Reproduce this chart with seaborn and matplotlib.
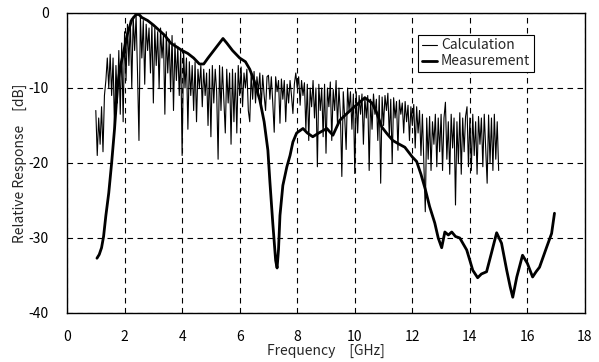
import numpy as np
import pandas as pd
import matplotlib
matplotlib.use("Agg")
import matplotlib.pyplot as plt
import seaborn as sns

# ---- data -------------------------------------------------------------
calc_start_ghz = 1.0
calc_step_ghz = 0.05
calc_db = [
    # 1.00 - 1.95
    -13, -19, -14, -17.5, -12.5, -18.5, -11, -9, -6, -10, -5.5, -11, -6, -15.5, -7, -12, -5, -13.5, -4, -14.5,
    # 2.00 - 2.95
    -2.5, -9, -1.5, -7, -1, -10, -0.5, -5, -0.3, -8, -17, -0.5, -6, -1, -9.5, -1.5, -5, -2, -8, -1.5,
    # 3.00 - 3.95
    -12, -2, -7, -2.5, -10, -2, -6, -3, -13.5, -2.5, -8, -3.5, -10.5, -3, -13, -4, -9, -4.5, -11, -5,
    # 4.00 - 4.95
    -19, -5, -10, -6, -15.5, -6.5, -11, -7, -13, -6.5, -14.5, -7.5, -10, -7, -12.5, -7.5, -11, -8, -15, -7.5,
    # 5.00 - 5.95
    -16.5, -7, -12, -7.5, -10.5, -19.5, -7, -13, -7.2, -11.5, -16, -7.5, -12, -8, -17.5, -7.5, -14.5, -8, -16, -7,
    # 6.00 - 6.95
    -11, -7.2, -12.5, -8, -10, -7.5, -13, -14.5, -8, -11.5, -7.8, -12, -8.5, -10.5, -8, -12.5, -8.3, -11, -13, -8.5,
    # 7.00 - 7.95
    -8.3, -11.5, -8.5, -12, -15.9, -8.5, -10.5, -9, -14.7, -8.8, -11.5, -9, -14.5, -9.5, -12, -9, -11, -13.4, -9.5, -8,
    # 8.00 - 8.95
    -10, -8.5, -12.3, -9, -11, -9.3, -15.6, -9.5, -17, -10, -12.5, -9, -14, -10, -20.5, -9.5, -13, -10, -16.5, -9.5,
    # 9.00 - 9.95
    -18.7, -10, -12.5, -9.2, -17, -10.2, -13, -9, -15, -10, -13.5, -21.8, -10.5, -14, -18.2, -10, -13, -10.5, -15.5, -10.8,
    # 10.00 - 10.95
    -21.4, -10.5, -16, -11, -13.5, -10.8, -17.5, -11.2, -14, -11, -21, -11.5, -15.5, -10.8, -13.5, -11.5, -17, -11, -22.7, -11.2,
    # 11.00 - 11.95
    -15, -11, -13, -10.7, -16.5, -11.5, -20, -11.3, -14, -11.8, -18.3, -11.6, -13.5, -12, -16, -11.8, -14.5, -12.3, -17, -12.5,
    # 12.00 - 12.95
    -15, -12.2, -18, -12.5, -16, -13, -19, -13.5, -20, -26.5, -14, -19.5, -13.8, -21, -14.5, -17.5, -13.5, -20.5, -14, -18.5,
    # 13.00 - 13.95
    -13.5, -21, -14, -11.9, -19.5, -14.5, -21.5, -13.5, -18, -14, -25.6, -14.5, -20, -13.3, -21.5, -14, -18.5, -13.8, -12.5, -20.5,
    # 14.00 - 15.00
    -14, -21, -13.5, -19, -14.5, -21.5, -13.8, -17.5, -14, -20.5, -13.5, -18, -22.7, -13.6, -20, -14, -21, -13.5, -19.5, -14.5, -21,
]
calc_ghz = np.round(calc_start_ghz + calc_step_ghz * np.arange(len(calc_db)), 3)

meas_ghz = [1.04, 1.12, 1.2, 1.27, 1.35, 1.45, 1.55, 1.65, 1.75, 1.85, 1.96, 2.1, 2.25, 2.4, 2.5,
            2.6, 2.8, 3.0, 3.2, 3.4, 3.6, 3.8, 4.0, 4.2, 4.4, 4.6, 4.75, 4.9, 5.1, 5.3, 5.42,
            5.55, 5.75, 6.0, 6.2, 6.35, 6.5, 6.7, 6.85, 6.98, 7.05, 7.15, 7.25, 7.3, 7.35, 7.4,
            7.5, 7.64, 7.75, 7.85, 7.98, 8.2, 8.35, 8.54, 8.75, 9.03, 9.24, 9.48, 9.7, 9.9,
            10.17, 10.35, 10.6, 10.75, 10.94, 11.1, 11.32, 11.5, 11.74, 12.0, 12.15, 12.3,
            12.45, 12.6, 12.78, 12.9, 13.02, 13.13, 13.25, 13.37, 13.5, 13.65, 13.89, 14.0,
            14.1, 14.27, 14.4, 14.58, 14.75, 14.93, 15.1, 15.28, 15.4, 15.49, 15.63, 15.83,
            16.0, 16.18, 16.3, 16.42, 16.55, 16.67, 16.84, 16.94]
meas_db = [-32.7, -32.2, -31.3, -29.8, -27, -24, -20, -15.5, -10, -7.2, -5.3, -2.8, -0.9, -0.2, -0.2,
           -0.6, -1.0, -1.6, -2.3, -3.0, -4.0, -4.5, -5.0, -5.4, -6.0, -6.8, -6.8, -6.0, -5.0, -4.0, -3.4,
           -4.0, -5.0, -6.0, -6.5, -7.5, -9.0, -11.6, -14.5, -18.3, -22.5, -28, -33, -34, -31.5, -27,
           -23, -20.5, -19.0, -17.2, -16.0, -15.4, -16.0, -16.5, -16.0, -15.4, -16.3, -14.3, -13.5, -12.8,
           -11.9, -11.3, -12.0, -13.2, -15.2, -16.0, -17.0, -17.4, -17.9, -19.2, -19.8, -21.5,
           -23.5, -25.8, -28, -30, -31.3, -29.2, -29.6, -29.2, -29.8, -30.0, -31.6, -33,
           -34.3, -35.3, -34.8, -34.5, -32, -29.3, -30.7, -34.3, -36.5, -37.9, -35.2, -32.3,
           -33.4, -35.2, -34.5, -33.9, -32.5, -31.2, -29.4, -26.7]

x_ticks = [0, 2, 4, 6, 8, 10, 12, 14, 16, 18]
y_ticks = [-40, -30, -20, -10, 0]
x_label = "Frequency\u3000[GHz]"
y_label = "Relative Response\u3000[dB]"
series_names = ["Calculation", "Measurement"]

# ---- style ------------------------------------------------------------
sns.set_style("white")
plt.rcParams["font.family"] = ["Noto Sans CJK JP", "DejaVu Sans"]
plt.rcParams["axes.unicode_minus"] = False

df_calc = pd.DataFrame({"f": calc_ghz, "db": calc_db})
df_meas = pd.DataFrame({"f": meas_ghz, "db": meas_db})

fig = plt.figure(figsize=(5.99, 3.62), dpi=100)
ax = fig.add_axes([0.1119, 0.1354, 0.8647, 0.8287])

sns.lineplot(data=df_calc, x="f", y="db", ax=ax, color="black", linewidth=0.8,
             label=series_names[0], sort=False, estimator=None)
sns.lineplot(data=df_meas, x="f", y="db", ax=ax, color="black", linewidth=2.0,
             label=series_names[1], sort=False, estimator=None)

ax.set_xlim(0, 18)
ax.set_ylim(-40, 0)
ax.set_xticks(x_ticks)
ax.set_yticks(y_ticks)
ax.set_xticklabels([str(t) for t in x_ticks])
ax.set_yticklabels([str(t) for t in y_ticks])
ax.tick_params(direction="in", length=4, width=0.8, colors="black", labelsize=10)
ax.tick_params(axis="x", pad=12)
ax.tick_params(axis="y", pad=13)
ax.grid(True, color="black", linestyle=(0, (5, 4)), linewidth=0.8)
for s in ax.spines.values():
    s.set_color("black")
    s.set_linewidth(1.0)
    s.set_visible(True)

ax.set_xlabel(x_label, fontsize=10, labelpad=0)
ax.set_ylabel(y_label, fontsize=10, labelpad=1)

leg = ax.legend(loc="upper left", bbox_to_anchor=(0.678, 0.927), fontsize=10,
                frameon=True, fancybox=False, framealpha=1, edgecolor="black",
                handlelength=1.1, handletextpad=0.3, borderpad=0.25, labelspacing=0.15,
                borderaxespad=0)
leg.get_frame().set_linewidth(0.8)

fig.savefig("out.png", dpi=100)
